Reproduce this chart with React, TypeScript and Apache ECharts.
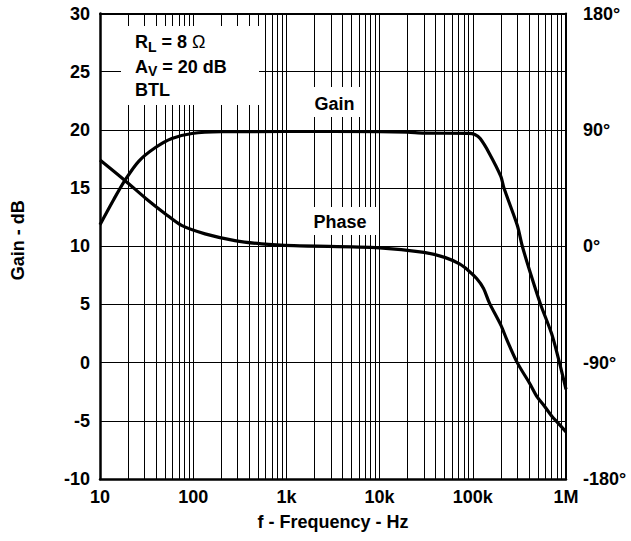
import React, { useEffect, useRef } from 'react';
import * as echarts from 'echarts';

const FONT = '"Liberation Sans", Arial, Helvetica, sans-serif';

// Gain curve (Hz, dB)
const gainFreq = [10, 14, 18.5, 26, 39, 59, 97, 200, 1000, 10000, 20000, 30000, 90000, 105000, 120000, 150000, 200000, 216000, 300000, 340000, 428000, 534000, 700000, 826000, 1000000];
const gainDb = [11.85, 14.0, 15.66, 17.3, 18.46, 19.26, 19.69, 19.84, 19.86, 19.85, 19.8, 19.72, 19.7, 19.6, 19.25, 18.0, 16.0, 15.0, 11.8, 10.0, 7.35, 5.0, 2.5, 0.4, -2.3];

// Phase curve (Hz, degrees)
const phaseFreq = [10, 18.5, 31, 50, 75, 134, 280, 540, 1200, 10000, 30000, 50000, 72000, 90000, 110000, 130000, 151000, 200000, 231000, 300000, 411000, 490000, 585000, 708000, 800000, 1000000];
const phaseDeg = [66.7, 50.9, 37, 25.2, 16.1, 9.6, 4.4, 1.9, 0.5, -1.2, -4.7, -8.6, -13.7, -18.9, -25, -32.4, -44, -61, -72, -90, -106.5, -116.5, -123.5, -131.6, -135.8, -143.5];

// Axis tick labels
const freqTickLabels = ['10', '100', '1k', '10k', '100k', '1M'];
const decadeStarts = [10, 100, 1000, 10000, 100000];
const minorMultipliers = [2, 3, 4, 5, 6, 7, 8, 9];
const gainMin = -10, gainMax = 30, gainStep = 5;
const phaseMin = -180, phaseMax = 180, phaseStep = 90;

export default function App() {
  const ref = useRef<HTMLDivElement>(null);
  useEffect(() => {
    const chart = echarts.init(ref.current!, null, { renderer: 'svg' });
    const minorFreqs: number[] = [];
    decadeStarts.forEach((d) => minorMultipliers.forEach((m) => minorFreqs.push(d * m)));
    const labelStyle = { color: '#000', fontFamily: FONT, fontWeight: 'bold' as const, fontSize: 18 };
    const richBase = { fill: '#000', fontFamily: FONT, fontWeight: 'bold', fontSize: 18 };
    chart.setOption({
      animation: false,
      backgroundColor: '#fff',
      grid: { left: 100, right: 65, top: 13.5, bottom: 62, containLabel: false },
      xAxis: [
        {
          type: 'log', logBase: 10, min: 10, max: 1000000, position: 'bottom',
          axisLine: { show: true, onZero: false, lineStyle: { color: '#000', width: 2.5 } },
          axisTick: { show: false },
          axisLabel: {
            ...labelStyle, margin: 9, interval: 0, showMinLabel: true, showMaxLabel: true,
            formatter: (v: number) => freqTickLabels[Math.round(Math.log10(v)) - 1] ?? '',
          },
          splitLine: { show: true, lineStyle: { color: '#000', width: 1 } },
          name: 'f - Frequency - Hz', nameLocation: 'middle', nameGap: 34,
          nameTextStyle: { ...labelStyle, fontSize: 18 },
        },
        {
          type: 'log', logBase: 10, min: 10, max: 1000000, position: 'top',
          axisLine: { show: true, onZero: false, lineStyle: { color: '#000', width: 2 } },
          axisTick: { show: false }, axisLabel: { show: false }, splitLine: { show: false },
        },
      ],
      yAxis: [
        {
          type: 'value', min: gainMin, max: gainMax, interval: gainStep, position: 'left',
          axisLine: { show: true, onZero: false, lineStyle: { color: '#000', width: 2.5 } },
          axisTick: { show: false },
          axisLabel: { ...labelStyle, margin: 10 },
          splitLine: { show: true, lineStyle: { color: '#000', width: 1 } },
          name: 'Gain - dB', nameLocation: 'middle', nameGap: 73, nameRotate: 90,
          nameTextStyle: { ...labelStyle, padding: [0, 0, 0, 12] },
        },
        {
          type: 'value', min: phaseMin, max: phaseMax, interval: phaseStep, position: 'right',
          axisLine: { show: true, onZero: false, lineStyle: { color: '#000', width: 2 } },
          axisTick: { show: false },
          axisLabel: {
            ...labelStyle,
            margin: 17,
            formatter: (v: number) => `${v}°`,
          },
          splitLine: { show: false },
        },
      ],
      series: [
        {
          type: 'line', name: 'Gain', xAxisIndex: 0, yAxisIndex: 0,
          data: gainFreq.map((f, i) => [f, gainDb[i]]),
          showSymbol: false, symbol: 'none', smooth: 0.3,
          lineStyle: { color: '#000', width: 3.2 },
          z: 5,
          markLine: {
            silent: true, symbol: ['none', 'none'], label: { show: false },
            emphasis: { disabled: true },
            lineStyle: { color: '#000', width: 1, type: 'solid' },
            data: minorFreqs.map((f) => ({ xAxis: f })),
          },
        },
        {
          type: 'line', name: 'Phase', xAxisIndex: 0, yAxisIndex: 1,
          data: phaseFreq.map((f, i) => [f, phaseDeg[i]]),
          showSymbol: false, symbol: 'none', smooth: 0.3,
          lineStyle: { color: '#000', width: 3.2 },
          z: 5,
        },
      ],
      graphic: [
        { type: 'rect', z: 100, shape: { x: 121, y: 26, width: 138, height: 79 }, style: { fill: '#fff' } },
        {
          type: 'text', z: 101, x: 135, y: 42,
          style: {
            text: '{b|R}{s|L}{b| = 8 }{o|Ω}', verticalAlign: 'middle',
            rich: { b: { ...richBase }, s: { ...richBase, fontSize: 14, padding: [9, 0, 0, 0] }, o: { ...richBase, fontWeight: 'normal' } },
          },
        },
        {
          type: 'text', z: 101, x: 135, y: 66.5,
          style: {
            text: '{b|A}{s|V}{b| = 20 dB}', verticalAlign: 'middle',
            rich: { b: { ...richBase }, s: { ...richBase, fontSize: 14, padding: [9, 0, 0, 0] } },
          },
        },
        {
          type: 'text', z: 101, x: 135, y: 90,
          style: { text: 'BTL', verticalAlign: 'middle', ...richBase },
        },
        { type: 'rect', z: 100, shape: { x: 300, y: 87, width: 63, height: 30 }, style: { fill: '#fff' } },
        {
          type: 'text', z: 101, x: 334.5, y: 104,
          style: { text: 'Gain', align: 'center', verticalAlign: 'middle', ...richBase },
        },
        { type: 'rect', z: 100, shape: { x: 300, y: 207, width: 78, height: 28 }, style: { fill: '#fff' } },
        {
          type: 'text', z: 101, x: 340, y: 221.5,
          style: { text: 'Phase', align: 'center', verticalAlign: 'middle', ...richBase },
        },
      ],
    });
    return () => chart.dispose();
  }, []);
  return (
    <div
      ref={ref}
      style={{ position: 'fixed', left: 0, top: 0, width: 631, height: 541, background: '#fff' }}
    />
  );
}
